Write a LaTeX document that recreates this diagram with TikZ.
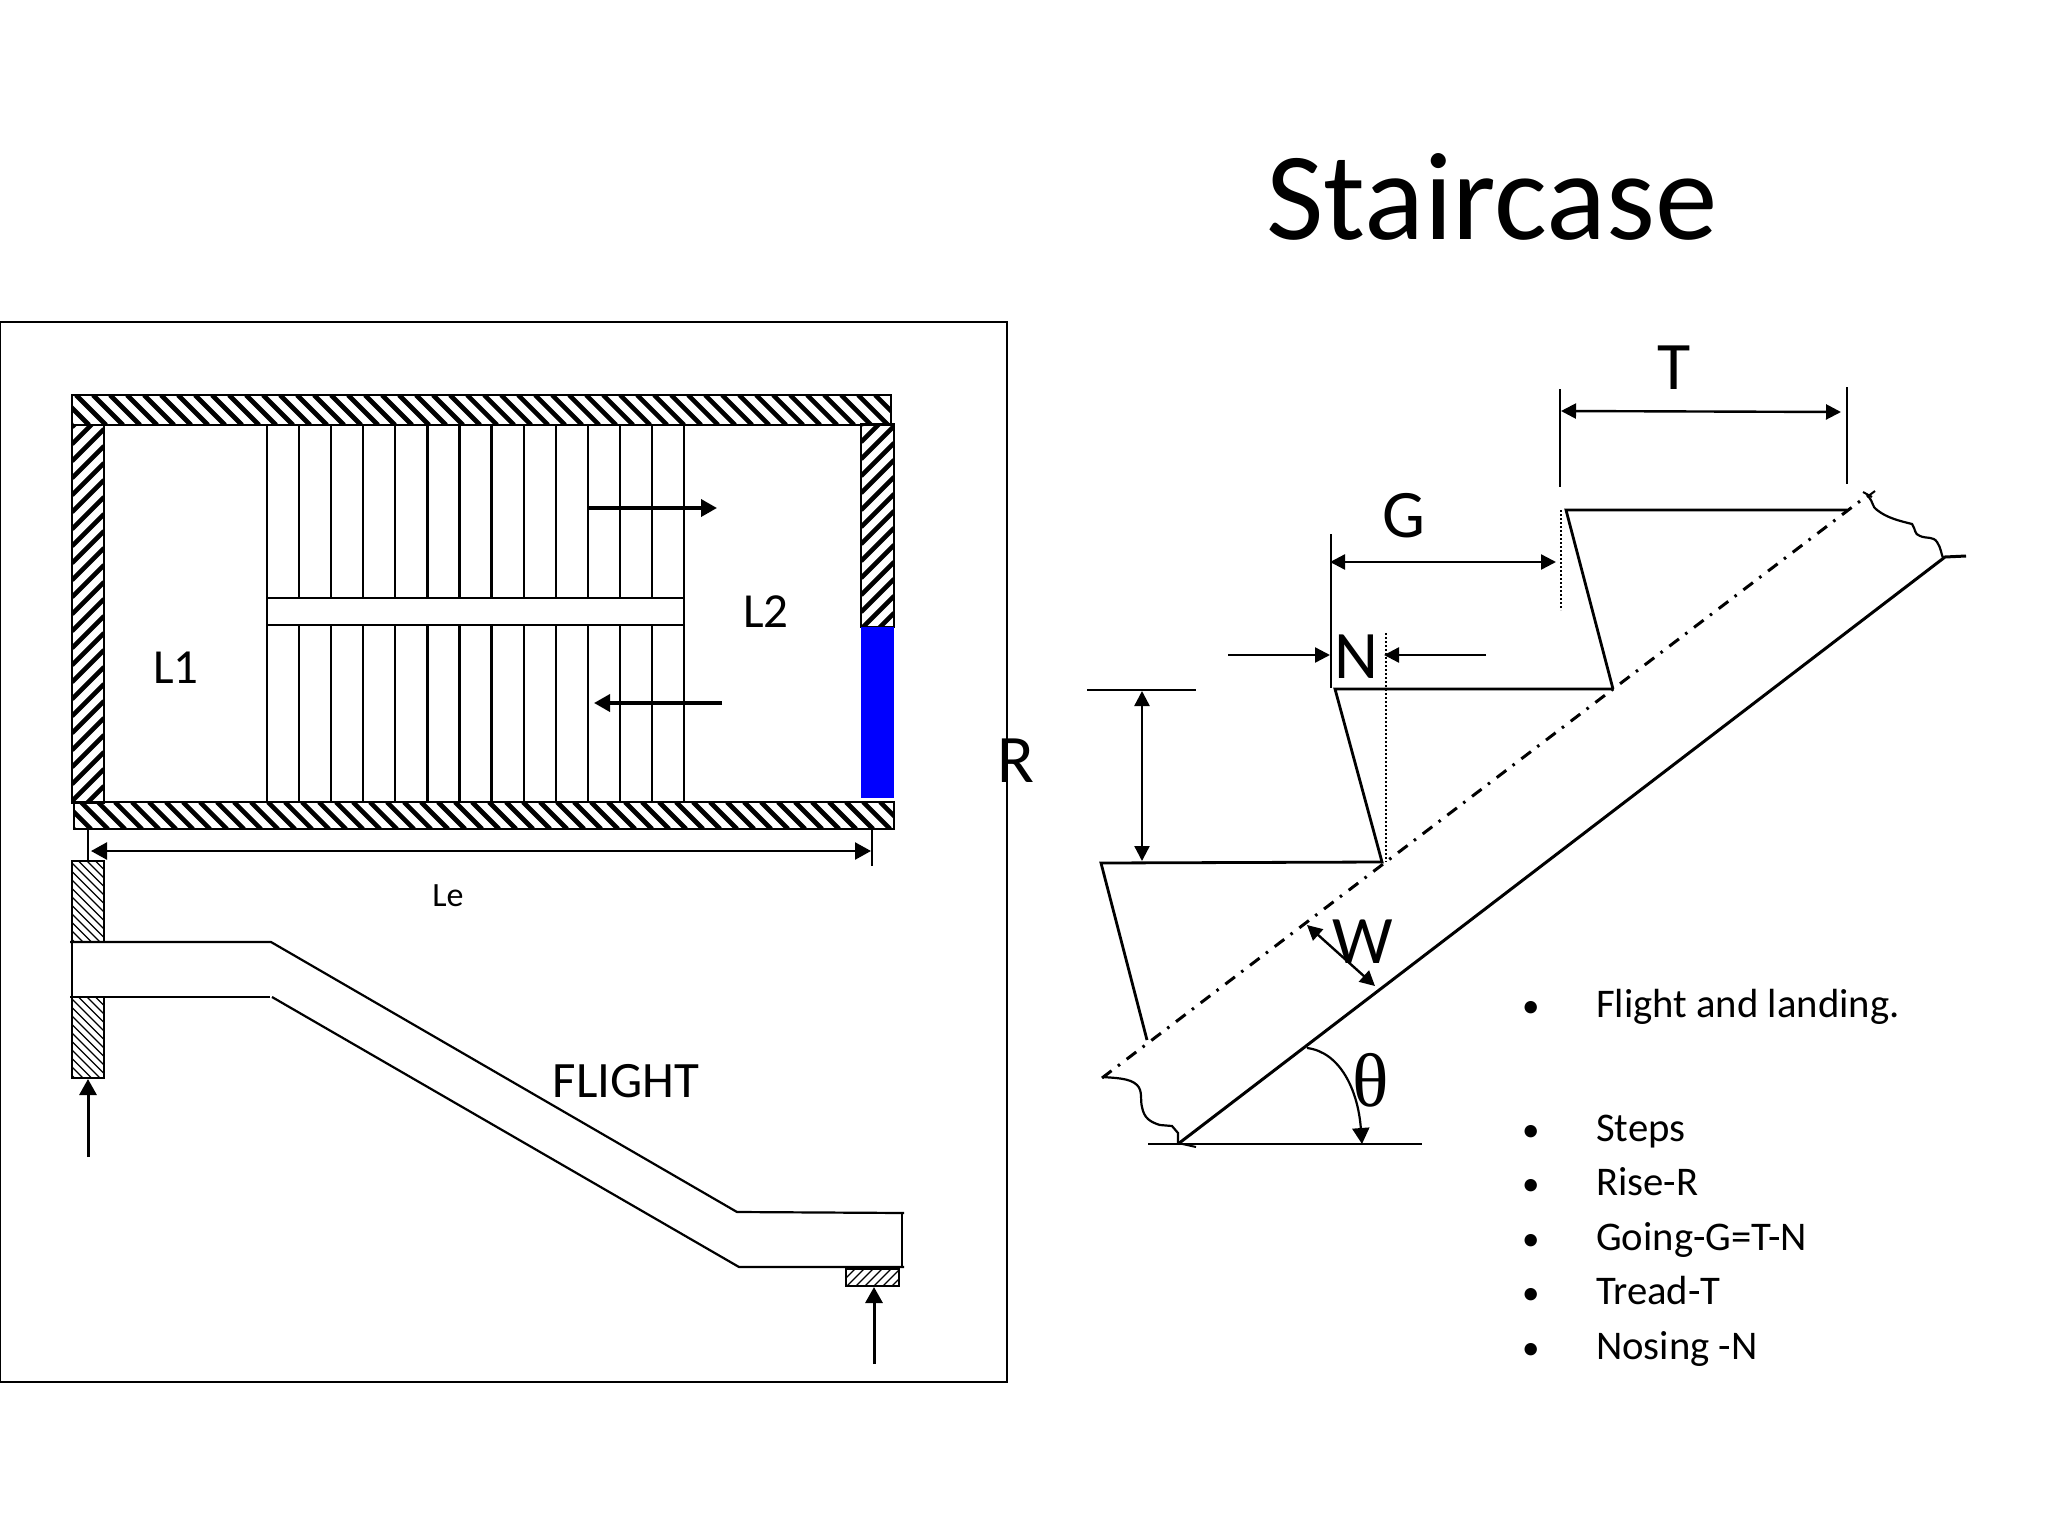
\documentclass[tikz,border=0pt]{standalone}
\usepackage{fontspec}
\setmainfont{Carlito}
\newfontfamily\serifgr{Liberation Serif}
\usetikzlibrary{arrows.meta}
\newcommand{\hatchbox}[7]{% x1 y1 x2 y2 dir spacing width
  \begin{scope}
    \clip (#1,#2) rectangle (#3,#4);
    \pgfmathsetmacro{\hh}{#4-#2}
    \pgfmathsetmacro{\xa}{#1-\hh-#6}
    \pgfmathsetmacro{\xb}{#1-\hh}
    \pgfmathsetmacro{\xc}{#3+\hh+#6}
    \foreach \k in {\xa,\xb,...,\xc}{
      \ifnum#5=1
        \draw[line width=#7] (\k,#2) -- ++(\hh,\hh);
      \else
        \draw[line width=#7] (\k,#4) -- ++(\hh,-\hh);
      \fi
    }
  \end{scope}
}
\newcommand{\hatchboxv}[7]{% tall box: iterate along y
  \begin{scope}
    \clip (#1,#2) rectangle (#3,#4);
    \pgfmathsetmacro{\ww}{#3-#1}
    \pgfmathsetmacro{\ya}{#2-\ww-#6}
    \pgfmathsetmacro{\yb}{#2-\ww}
    \pgfmathsetmacro{\yc}{#4+\ww+#6}
    \foreach \k in {\ya,\yb,...,\yc}{
      \ifnum#5=1
        \draw[line width=#7] (#1,\k) -- ++(\ww,\ww);
      \else
        \draw[line width=#7] (#1,\k) -- ++(\ww,-\ww);
      \fi
    }
  \end{scope}
}
\tikzset{
  ln/.style={line width=2.2pt,black},
  thick line/.style={line width=2.8pt,black},
  tip/.style={-{Triangle[length=16pt,width=17pt]}},
  tipb/.style={{Triangle[length=15pt,width=15pt]}-{Triangle[length=15pt,width=15pt]}},
  tipn/.style={-{Triangle[length=15pt,width=15pt]}},
  dim/.style={line width=2.4pt,black},
  lab/.style={inner sep=0pt,anchor=center},
  dotline/.style={line width=1.8pt,dash pattern=on 2pt off 2pt},
  bul/.style={inner sep=0pt,anchor=base west,font=\fontsize{40.7pt}{40.7pt}\selectfont},
  bulmark/.style={inner sep=0pt,anchor=base west,font=\fontsize{35pt}{35pt}\selectfont},
}
\begin{document}
\begin{tikzpicture}[x=1pt,y=-1pt]
\useasboundingbox (0,0) rectangle (2048,1536);
\fill[white] (0,0) rectangle (2048,1536);
% frame
\draw[ln] (0,322) rectangle (1007,1382);
% walls
\hatchbox{72}{395}{891}{425}{1}{17}{4.6pt}
\draw[ln] (72,395) rectangle (891,425);
\hatchboxv{72}{425}{104}{803}{2}{17}{4.6pt}
\draw[thick line] (72,425) rectangle (104,803);
\hatchbox{74}{802}{894}{829}{1}{17}{4.6pt}
\draw[ln] (74,802) rectangle (894,829);
\hatchboxv{861}{424}{894}{627}{2}{17}{4.6pt}
\draw[ln] (861,424) rectangle (894,627);
\fill[blue] (861,627) rectangle (894,798);
% steps
\foreach \i in {0,...,13}{
  \pgfmathsetmacro{\xx}{267+32.08*\i}
  \draw[ln] (\xx,425) -- (\xx,598);
  \draw[ln] (\xx,625) -- (\xx,802);
}
\draw[ln] (267,598) rectangle (684,625);
% direction arrows
\coordinate (ua) at (589,508); \coordinate (ub) at (717,508);
\coordinate (la) at (722,703); \coordinate (lb) at (594,703);
\draw[line width=3.6pt,tip] (ua) -- (ub);
\draw[line width=3.6pt,tip] (la) -- (lb);
% Le dimension
\draw[ln] (88,829) -- (88,861);
\draw[ln] (872,829) -- (872,866);
\coordinate (lea) at (91,851); \coordinate (leb) at (871,851);
\draw[dim,{Triangle[length=16pt,width=17pt]}-{Triangle[length=16pt,width=17pt]}] (lea) -- (leb);
% left support
\hatchboxv{72}{861}{104}{1078}{1}{8.5}{1.3pt}
\draw[thick line] (72,861) rectangle (104,1078);
% flight
\fill[white] (72,942) rectangle (271,997);
\draw[ln] (70,942) -- (271,942) -- (737,1212) -- (904,1213);
\draw[ln] (70,997) -- (270,997);
\draw[ln] (272,997) -- (739,1267) -- (904,1267);
\draw[ln] (72,942) -- (72,997);
\draw[ln] (902,1213) -- (902,1267);
% right support
\hatchbox{846}{1269}{899}{1286}{2}{9}{1.3pt}
\draw[thick line] (846,1269) rectangle (899,1286);
% support arrows
\coordinate (sa) at (88,1157); \coordinate (sb) at (88,1079);
\coordinate (ta) at (874,1364); \coordinate (tb) at (874,1287);
\draw[line width=3pt,tip] (sa) -- (sb);
\draw[line width=3pt,tip] (ta) -- (tb);
% stair profile
\draw[thick line] (1847,510) -- (1566,510) -- (1613,689);
\draw[thick line] (1613,689) -- (1335,689) -- (1382,862) -- (1101,863) -- (1147,1040);
% soffit, axis
\draw[line width=3pt,dash pattern=on 12pt off 8pt on 2.5pt off 8.5pt] (1102,1078) -- (1868,495);
\draw[line width=3pt] (1178,1144) -- (1945,557) -- (1966,556);
\draw[thick line] (1148,1144) -- (1422,1144);
\draw[line width=2pt] (1178,1143) -- (1196,1147);
\draw[line width=2pt] (1863,492) -- (1872,497) (1867,497) -- (1875,491);
\draw[line width=2.2pt] (1868,496) .. controls (1874,503) and (1872,507) .. (1877,510) .. controls (1887,518) and (1900,521) .. (1912,524) .. controls (1916,530) and (1914,534) .. (1920,536) .. controls (1927,539) and (1933,536) .. (1937,542) .. controls (1941,548) and (1941,553) .. (1943,558);
\draw[line width=2.2pt] (1103,1077) .. controls (1115,1078) and (1130,1078) .. (1137,1085) .. controls (1143,1091) and (1140,1100) .. (1142,1107) .. controls (1144,1118) and (1150,1122) .. (1160,1125) -- (1172,1126) -- (1178,1133) -- (1178,1143);
% theta arc
\coordinate (tha) at (1307,1048); \coordinate (thb) at (1362,1144);
\draw[line width=2.2pt,tip] (tha) .. controls (1340,1052) and (1358,1090) .. (thb);
% T dim
\draw[ln] (1560,389) -- (1560,487);
\draw[ln] (1847,387) -- (1847,484);
\coordinate (ta1) at (1561,411); \coordinate (ta2) at (1841,412);
\draw[dim,tipb] (ta1) -- (ta2);
% G dim
\draw[ln] (1331,534) -- (1331,688);
\draw[dotline] (1561,510) -- (1561,610);
\coordinate (ga1) at (1330,562); \coordinate (ga2) at (1556,562);
\draw[dim,tipb] (ga1) -- (ga2);
% N dim
\coordinate (na1) at (1228,655); \coordinate (na2) at (1330,655);
\coordinate (nb1) at (1486,655); \coordinate (nb2) at (1384,655);
\draw[dim,tipn] (na1) -- (na2);
\draw[dim,tipn] (nb1) -- (nb2);
\draw[dotline] (1386,633) -- (1386,862);
% R dim
\draw[ln] (1087,690) -- (1196,690);
\coordinate (ra1) at (1142,691); \coordinate (ra2) at (1142,861);
\draw[dim,tipb] (ra1) -- (ra2);
% W dim
\coordinate (wa1) at (1307,925); \coordinate (wa2) at (1375,986);
\draw[dim,tipb] (wa1) -- (wa2);
% labels
\node[lab,font=\fontsize{125pt}{125pt}\selectfont] (title) at (1492,197) {Staircase};
\node[lab,font=\fontsize{49pt}{49pt}\selectfont] (l1) at (176,668) {L1};
\node[lab,font=\fontsize{49pt}{49pt}\selectfont] (l2) at (766,612) {L2};
\node[lab,font=\fontsize{34pt}{34pt}\selectfont] (le) at (448,896) {Le};
\node[lab,font=\fontsize{51pt}{51pt}\selectfont] (flight) at (626,1081) {FLIGHT};
\node[lab,font=\fontsize{68pt}{68pt}\selectfont] (r) at (1016,761) {R};
\node[lab,font=\fontsize{68pt}{68pt}\selectfont] (t) at (1674,368) {T};
\node[lab,font=\fontsize{68pt}{68pt}\selectfont] (g) at (1404,516) {G};
\node[lab,font=\fontsize{68pt}{68pt}\selectfont] (n) at (1356,657) {N};
\node[lab,font=\fontsize{68pt}{68pt}\selectfont] (w) at (1363,942) {W};
\node[lab,font={\serifgr\fontsize{76pt}{76pt}\selectfont}] (theta) at (1371,1080) {θ};
% bullets
\foreach \yy/\tx in {1017/Flight and landing.,1141/Steps,1195/Rise-R,1250/Going-G=T-N,1304/Tread-T,1359/Nosing -N}{
  \node[bul] at (1596,\yy) {\tx};
  \node[bulmark] at (1522,\yy) {•};
}
\end{tikzpicture}
\end{document}
